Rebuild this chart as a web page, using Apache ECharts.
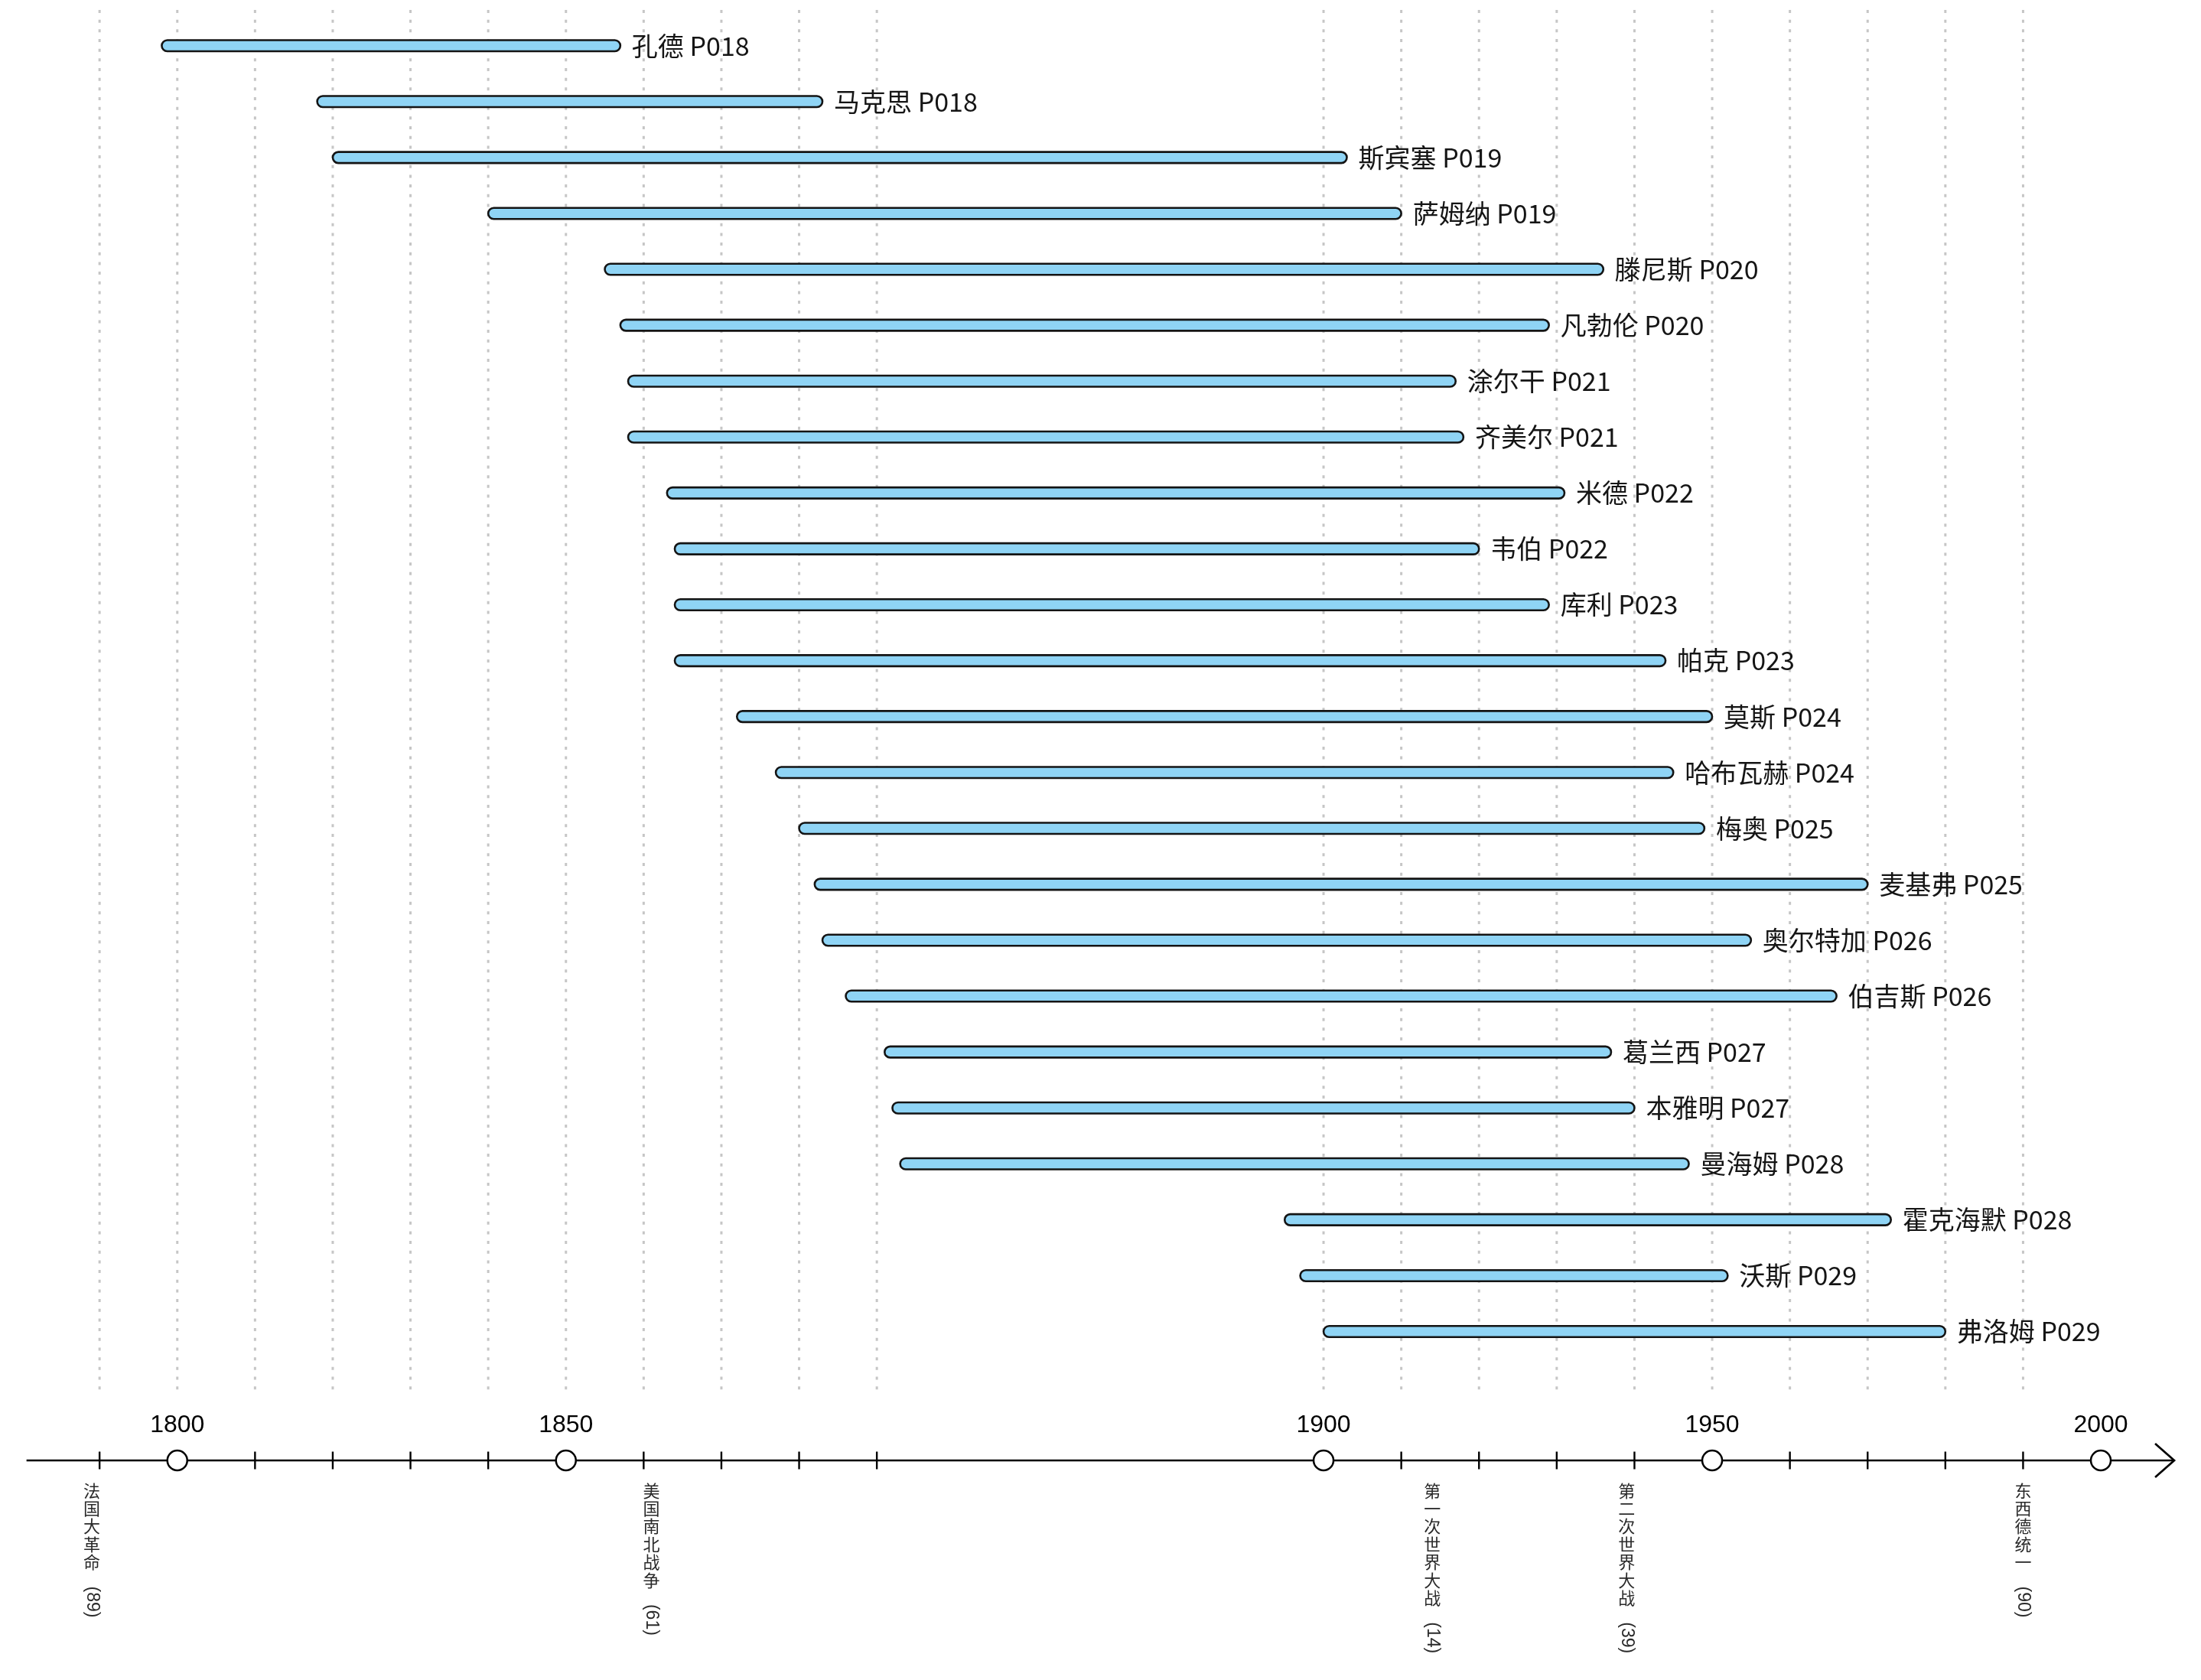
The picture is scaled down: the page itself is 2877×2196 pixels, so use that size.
<!DOCTYPE html>
<html><head><meta charset="utf-8">
<script src="https://cdn.jsdelivr.net/npm/echarts@6/dist/echarts.min.js"></script>
<style>html,body{margin:0;padding:0;background:#fff}#c{width:2877px;height:2196px}</style>
</head><body><div id="c"></div>
<script>
// ---------- data ----------
const names = ['孔德','马克思','斯宾塞','萨姆纳','滕尼斯','凡勃伦','涂尔干','齐美尔','米德','韦伯','库利','帕克','莫斯','哈布瓦赫','梅奥','麦基弗','奥尔特加','伯吉斯','葛兰西','本雅明','曼海姆','霍克海默','沃斯','弗洛姆'];
const pages = ['P018','P018','P019','P019','P020','P020','P021','P021','P022','P022','P023','P023','P024','P024','P025','P025','P026','P026','P027','P027','P028','P028','P029','P029'];
const births = [1798,1818,1820,1840,1855,1857,1858,1858,1863,1864,1864,1864,1872,1877,1880,1882,1883,1886,1891,1892,1893,1895,1897,1900];
const deaths = [1857,1883,1903,1910,1936,1929,1917,1918,1931,1920,1929,1944,1950,1945,1949,1970,1955,1966,1937,1940,1947,1973,1952,1980];
const gridYears = [1790,1800,1810,1820,1830,1840,1850,1860,1870,1880,1890,1900,1910,1920,1930,1940,1950,1960,1970,1980,1990];
const majorYears = [1800,1850,1900,1950,2000];
const eventNames = ['法国大革命','美国南北战争','第一次世界大战','第二次世界大战','东西德统一'];
const eventTags = ['(89)','(61)','(14)','(39)','(90)'];
const eventYears = [1789,1861,1914,1939,1990];
const axisRange = [1780.6, 2009.45];

// ---------- layout (timeline is stretched between 1890 and 1900) ----------
const BREAK_AT = 1894, BREAK_SHIFT = 47.47;
const v = y => (y >= BREAK_AT ? y + BREAK_SHIFT : y);
const AXIS_ROW = 25.305;
const GRID_TOP = -0.639, GRID_BOTTOM = 24.115;
const CJK = '"Noto Sans CJK SC"';
const LAT = '"Liberation Sans","Noto Sans CJK SC"';

const chart = echarts.init(document.getElementById('c'), null, {renderer: 'canvas'});

const barData = names.map((n, i) => [i, v(births[i]), v(deaths[i])]);

chart.setOption({
  animation: false,
  backgroundColor: '#ffffff',
  grid: {left: 0, right: 0, top: 0, bottom: 0, containLabel: false},
  xAxis: {type: 'value', min: 1777.19, max: 2060.36, show: false},
  yAxis: {type: 'value', min: -0.8169, max: 29.2324, inverse: true, show: false},
  series: [
    { // dotted vertical gridlines
      type: 'custom', z: 1, silent: true,
      data: gridYears.map(y => [v(y)]),
      renderItem(params, api) {
        const a = api.coord([api.value(0), GRID_TOP]);
        const b = api.coord([api.value(0), GRID_BOTTOM]);
        return {type: 'line', shape: {x1: a[0], y1: a[1], x2: b[0], y2: b[1]},
          style: {stroke: '#c6c6c6', lineWidth: 3, lineDash: [4, 8.67]}};
      }
    },
    { // life-span bars
      type: 'custom', z: 3, silent: true,
      data: barData,
      renderItem(params, api) {
        const i = api.value(0);
        const p0 = api.coord([api.value(1), i]);
        const p1 = api.coord([api.value(2), i]);
        const h = 14.5;
        return {type: 'group', children: [
          {type: 'rect', shape: {x: p0[0], y: p0[1] - h / 2, width: p1[0] - p0[0], height: h, r: h / 2},
            style: {fill: '#8fd4f5', stroke: '#141414', lineWidth: 2.6}},
          {type: 'text', x: p1[0] + 15, y: p0[1],
            style: {text: names[params.dataIndex] + ' ' + pages[params.dataIndex],
              fontSize: 34, fontFamily: CJK, fill: '#151515', align: 'left', verticalAlign: 'middle'}}
        ]};
      }
    },
    { // timeline axis line with open arrow
      type: 'custom', z: 4, silent: true,
      data: [[v(axisRange[0]), v(axisRange[1])]],
      renderItem(params, api) {
        const a = api.coord([api.value(0), AXIS_ROW]);
        const b = api.coord([api.value(1), AXIS_ROW]);
        return {type: 'group', children: [
          {type: 'line', shape: {x1: a[0], y1: a[1], x2: b[0] - 1, y2: b[1]},
            style: {stroke: '#000', lineWidth: 2.7}},
          {type: 'polyline', shape: {points: [[b[0] - 25, b[1] - 22], [b[0], b[1]], [b[0] - 25, b[1] + 22]]},
            style: {stroke: '#000', lineWidth: 2.7, fill: null, lineJoin: 'miter'}}
        ]};
      }
    },
    { // tick marks
      type: 'custom', z: 5, silent: true,
      data: gridYears.map(y => [v(y)]),
      renderItem(params, api) {
        const p = api.coord([api.value(0), AXIS_ROW]);
        return {type: 'line', shape: {x1: p[0], y1: p[1] - 11.5, x2: p[0], y2: p[1] + 11.5},
          style: {stroke: '#000', lineWidth: 2.4}};
      }
    },
    { // major year circles + labels
      type: 'scatter', z: 6, silent: true,
      data: majorYears.map(y => [v(y), AXIS_ROW]),
      symbol: 'circle', symbolSize: 26,
      itemStyle: {color: '#ffffff', borderColor: '#000', borderWidth: 2.5, opacity: 1},
      label: {show: true, position: 'top', distance: 16,
        formatter: p => String(majorYears[p.dataIndex]),
        fontSize: 32, fontFamily: LAT, color: '#000'}
    },
    { // historical events, vertical text
      type: 'custom', z: 6, silent: true,
      data: eventYears.map(y => [v(y)]),
      renderItem(params, api) {
        const p = api.coord([api.value(0), AXIS_ROW]);
        const name = eventNames[params.dataIndex];
        const cell = 23.4;
        const top = p[1] + 27.5;
        const kids = [];
        for (let k = 0; k < name.length; k++) {
          kids.push({type: 'text', x: p[0], y: top + k * cell + cell / 2,
            style: {text: name[k], fontSize: 22, fontFamily: CJK, fill: '#2a2a2a', align: 'center', verticalAlign: 'middle'}});
        }
        kids.push({type: 'text', x: p[0], y: top + name.length * cell + 40.5, rotation: -Math.PI / 2,
          style: {text: eventTags[params.dataIndex], fontSize: 23, fontFamily: LAT, fill: '#2a2a2a', align: 'center', verticalAlign: 'middle'}});
        return {type: 'group', children: kids};
      }
    }
  ]
});
</script>
</body></html>
